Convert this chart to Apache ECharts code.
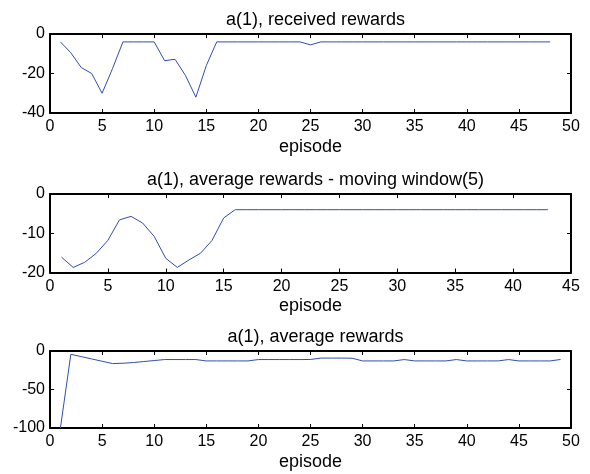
<!DOCTYPE html>
<html>
<head>
<meta charset="utf-8">
<script src="https://cdn.jsdelivr.net/npm/echarts@6/dist/echarts.min.js"></script>
<style>
  html, body { margin: 0; padding: 0; background: #fff; }
  #chart { width: 590px; height: 474px; }
</style>
</head>
<body>
<div id="chart"></div>
<script>
// Received reward per episode (episodes 1..48)
const receivedRewards = [
  -4, -9.5, -17, -20, -30, -17.5, -4, -4, -4, -4,
  -13.5, -12.8, -21, -32, -16, -4, -4, -4, -4, -4,
  -4, -4, -4, -4, -5.5, -4, -4, -4, -4, -4,
  -4, -4, -4, -4, -4, -4, -4, -4, -4, -4,
  -4, -4, -4, -4, -4, -4, -4, -4
];

// Moving-window (5) average of the rewards (windows 1..43)
const movingAvgRewards = [
  -16.1, -18.7, -17.4, -15.1, -11.8, -6.6, -5.7, -7.4, -10.8, -16.4,
  -18.7, -16.8, -15.1, -11.8, -6.1, -4, -4, -4, -4, -4,
  -4, -4, -4, -4, -4, -4, -4, -4, -4, -4,
  -4, -4, -4, -4, -4, -4, -4, -4, -4, -4,
  -4, -4, -4
];

// Running average of the rewards (episodes 1..49)
const averageRewards = [
  -100, -4.3, -7.3, -10.3, -13.3, -16.3, -15.9, -15, -13.7, -12.4,
  -11.1, -11.1, -11.1, -11.1, -12.9, -12.9, -12.9, -12.9, -12.9, -11.1,
  -11.1, -11.1, -11.1, -11.1, -11, -9.2, -9.2, -9.2, -9.4, -12.9,
  -12.9, -12.9, -12.9, -11.1, -12.9, -12.9, -12.9, -12.9, -11.1, -12.9,
  -12.9, -12.9, -12.9, -11.1, -12.9, -12.9, -12.9, -12.9, -11
];

const panelTitles = [
  'a(1), received rewards',
  'a(1), average rewards - moving window(5)',
  'a(1), average rewards'
];
const xAxisLabel = 'episode';
const xRanges = [[0, 50, 5], [0, 45, 5], [0, 50, 5]];
const yRanges = [[-40, 0, 20], [-20, 0, 10], [-100, 0, 50]];
const panelData = [receivedRewards, movingAvgRewards, averageRewards];

const FONT = 'Liberation Sans, Arial, Helvetica, sans-serif';
const LINE_COLOR = '#2f4fb0';

const grids = [
  { left: 50, right: 19, top: 34, height: 79 },
  { left: 50, right: 19, top: 194, height: 78.5 },
  { left: 50, right: 19, top: 351, height: 77 }
];

const axisLine = { show: true, onZero: false, lineStyle: { color: '#000', width: 2 } };
const axisTick = { show: true, inside: true, length: 4, lineStyle: { color: '#000', width: 1 } };

const xAxes = [], yAxes = [], series = [], titles = [];
grids.forEach((g, i) => {
  const [xmin, xmax, xint] = xRanges[i];
  const [ymin, ymax, yint] = yRanges[i];
  // bottom and top x axes
  xAxes.push({
    type: 'value', gridIndex: i, position: 'bottom', min: xmin, max: xmax, interval: xint,
    axisLine, axisTick, splitLine: { show: false },
    axisLabel: { color: '#000', fontFamily: FONT, fontSize: 16, margin: 6 },
    name: xAxisLabel, nameLocation: 'middle', nameGap: 25,
    nameTextStyle: { color: '#000', fontFamily: FONT, fontSize: 18 }
  });
  xAxes.push({
    type: 'value', gridIndex: i, position: 'top', min: xmin, max: xmax, interval: xint,
    axisLine, axisTick, axisLabel: { show: false }, splitLine: { show: false }
  });
  // left and right y axes
  yAxes.push({
    type: 'value', gridIndex: i, position: 'left', min: ymin, max: ymax, interval: yint,
    axisLine, axisTick, splitLine: { show: false },
    axisLabel: { color: '#000', fontFamily: FONT, fontSize: 16, margin: 5 }
  });
  yAxes.push({
    type: 'value', gridIndex: i, position: 'right', min: ymin, max: ymax, interval: yint,
    axisLine, axisTick, axisLabel: { show: false }, splitLine: { show: false }
  });
  series.push({
    type: 'line', xAxisIndex: i * 2, yAxisIndex: i * 2,
    data: panelData[i].map((v, k) => [k + 1, v]),
    showSymbol: false, symbol: 'none', smooth: false,
    lineStyle: { color: LINE_COLOR, width: 1 }, clip: true, animation: false
  });
  titles.push({
    text: panelTitles[i], left: 310.5, textAlign: 'center', top: g.top - 28,
    textStyle: { color: '#000', fontFamily: FONT, fontSize: 18, fontWeight: 'normal' }
  });
});

const chart = echarts.init(document.getElementById('chart'), null, { renderer: 'canvas' });
chart.setOption({
  animation: false,
  backgroundColor: '#fff',
  title: titles,
  grid: grids,
  xAxis: xAxes,
  yAxis: yAxes,
  series
});
</script>
</body>
</html>
